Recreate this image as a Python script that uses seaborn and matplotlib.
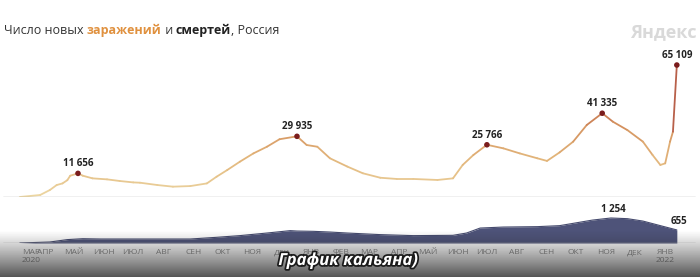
import numpy as np
import pandas as pd
import matplotlib
matplotlib.use("Agg")
import matplotlib.pyplot as plt
import matplotlib.dates as mdates
import matplotlib.patheffects as pe
from matplotlib.collections import LineCollection
from matplotlib.colors import LinearSegmentedColormap, Normalize
import seaborn as sns

sns.set_theme(style="white")
plt.rcParams["font.family"] = ["Open Sans", "DejaVu Sans"]

# ---------------- data ----------------
case_dates = ["2020-03-06", "2020-03-27", "2020-04-06", "2020-04-13", "2020-04-19",
              "2020-04-24", "2020-04-27", "2020-05-05", "2020-05-10", "2020-05-20",
              "2020-06-04", "2020-06-17", "2020-07-01", "2020-07-08", "2020-07-26",
              "2020-08-11", "2020-08-29", "2020-09-15", "2020-09-25", "2020-10-06",
              "2020-10-19", "2020-11-02", "2020-11-16", "2020-11-29", "2020-12-17",
              "2020-12-27", "2021-01-07", "2021-01-20", "2021-02-07", "2021-02-23",
              "2021-03-13", "2021-03-30", "2021-04-16", "2021-05-11", "2021-05-27",
              "2021-06-06", "2021-06-17", "2021-07-01", "2021-07-18", "2021-08-04",
              "2021-08-22", "2021-09-01", "2021-09-14", "2021-09-28", "2021-10-12",
              "2021-10-28", "2021-11-08", "2021-11-23", "2021-12-09", "2021-12-19",
              "2021-12-27", "2022-01-01", "2022-01-06", "2022-01-09", "2022-01-13"]
case_values = [0, 1000, 3450, 5900, 6700,
               8300, 10500, 11656, 10500, 9200,
               8700, 7900, 7200, 7050, 5900,
               5100, 5400, 6700, 10000, 13300,
               17400, 21500, 24800, 28500, 29935,
               25650, 24800, 19100, 15000, 11700,
               9500, 8900, 8900, 8400, 9200,
               15800, 20700, 25766, 24000, 21500,
               19100, 17800, 22000, 27300, 35500,
               41335, 37150, 33000, 27300, 20700,
               15800, 16600, 27300, 32200, 65109]

death_dates = ["2020-03-06", "2020-04-06", "2020-04-24", "2020-05-10", "2020-05-28",
               "2020-07-01", "2020-08-29", "2020-09-25", "2020-10-19", "2020-11-16",
               "2020-12-10", "2020-12-17", "2021-01-03", "2021-01-20", "2021-02-07",
               "2021-03-13", "2021-04-16", "2021-05-27", "2021-06-10", "2021-06-24",
               "2021-07-18", "2021-08-22", "2021-09-14", "2021-10-18", "2021-11-06",
               "2021-11-23", "2021-12-09", "2021-12-27", "2022-01-13"]
death_values = [0, 50, 170, 215, 200,
                200, 200, 285, 370, 500,
                620, 600, 585, 550, 500,
                420, 370, 385, 500, 750,
                800, 820, 870, 1150, 1254,
                1220, 1100, 870, 655]

case_peak_dates = ["2020-05-05", "2020-12-17", "2021-07-01", "2021-10-28", "2022-01-13"]
case_peak_values = [11656, 29935, 25766, 41335, 65109]
death_label_dates = ["2021-11-06", "2022-01-13"]
death_label_values = [1254, 655]

month_names = ["МАР", "АПР", "МАЙ", "ИЮН", "ИЮЛ", "АВГ", "СЕН", "ОКТ", "НОЯ", "ДЕК",
               "ЯНВ", "ФЕВ", "МАР", "АПР", "МАЙ", "ИЮН", "ИЮЛ", "АВГ", "СЕН", "ОКТ",
               "НОЯ", "ДЕК", "ЯНВ"]
year_labels = {0: "2020", 10: "2021", 22: "2022"}

cases = pd.DataFrame({"date": pd.to_datetime(case_dates), "value": case_values})
deaths = pd.DataFrame({"date": pd.to_datetime(death_dates), "value": death_values})
peaks = pd.DataFrame({"date": pd.to_datetime(case_peak_dates), "value": case_peak_values})
dlabels = pd.DataFrame({"date": pd.to_datetime(death_label_dates), "value": death_label_values})
month_starts = pd.date_range("2020-03-01", "2022-01-01", freq="MS")

# ---------------- layout ----------------
W, H = 700, 277
fig = plt.figure(figsize=(W / 100, H / 100), dpi=100)
fig.patch.set_facecolor("white")

def box(y_top, y_bottom):
    return [0, (H - y_bottom) / H, 1, (y_bottom - y_top) / H]

ax_top = fig.add_axes(box(40, 197))
ax_bot = fig.add_axes(box(205, 243))

d0 = mdates.date2num(pd.Timestamp("2020-03-01"))
px_per_day = 0.969
xlim = (d0 - 15 / px_per_day, d0 + (W - 15) / px_per_day)

# ---------------- cases ----------------
sns.lineplot(data=cases, x="date", y="value", ax=ax_top, color="#e0b070", linewidth=1.2)
line = ax_top.get_lines()[0]
xy = line.get_xydata()
line.remove()
segs = np.stack([xy[:-1], xy[1:]], axis=1)
mid_vals = (xy[:-1, 1] + xy[1:, 1]) / 2
cmap = LinearSegmentedColormap.from_list(
    "inf", [(0.0, "#ecd6a2"), (0.3, "#e2b57a"), (0.55, "#d38e5c"),
            (0.75, "#b8604a"), (1.0, "#7a1818")])
lc = LineCollection(segs, cmap=cmap, norm=Normalize(0, 65109), linewidth=1.3,
                    capstyle="round", joinstyle="round")
lc.set_array(mid_vals)
ax_top.add_collection(lc)

sns.scatterplot(data=peaks, x="date", y="value", ax=ax_top, color="#7a1c1c",
                s=16, edgecolor="none", zorder=5)
for d, v in zip(peaks["date"], peaks["value"]):
    ax_top.annotate(f"{v:,}".replace(",", " "), xy=(mdates.date2num(d), v),
                    xytext=(0, 3), textcoords="offset points", ha="center", va="bottom",
                    fontsize=7, fontweight="bold", color="#222222")

ax_top.axhline(0, xmin=3 / W, xmax=695 / W, color="#b5b5b5", lw=1.0)
ax_top.set_xlim(*xlim)
ax_top.set_ylim(0, 157 / 0.002027)
ax_top.set_axis_off()

# ---------------- deaths ----------------
sns.lineplot(data=deaths, x="date", y="value", ax=ax_bot, color="#464b6e", linewidth=0.8)
ax_bot.fill_between(mdates.date2num(deaths["date"]), 0, deaths["value"],
                    color="#4e5379", linewidth=0)
for d, v in zip(dlabels["date"], dlabels["value"]):
    ax_bot.annotate(f"{v:,}".replace(",", " "), xy=(mdates.date2num(d), v),
                    xytext=(1.5, 2), textcoords="offset points", ha="center", va="bottom",
                    fontsize=7, fontweight="bold", color="#222222")
ax_bot.axhline(0, xmin=3 / W, xmax=695 / W, color="#b5b5b5", lw=1.0)
ax_bot.set_xlim(*xlim)
ax_bot.set_ylim(0, 38 / 0.01994)
ax_bot.set_axis_off()

first_day = mdates.date2num(cases["date"].iloc[0])
for i, (ms, name) in enumerate(zip(month_starts, month_names)):
    txt = name + ("\n" + year_labels[i] if i in year_labels else "")
    x = mdates.date2num(ms)
    ha = "center"
    if i == 0:
        x = first_day + 2
        ha = "left"
    ax_bot.annotate(txt, xy=(x, 0), xytext=(0, -4.5), textcoords="offset points",
                    ha=ha, va="top", fontsize=6, color="#8a8a8a",
                    linespacing=1.05, multialignment="left" if i == 0 else "center",
                    annotation_clip=False)

# ---------------- title / brand ----------------
renderer = fig.canvas.get_renderer()
parts = [("Число новых ", "#333333", "normal"), ("заражений", "#e0913f", "bold"),
         (" и ", "#333333", "normal"), ("смертей", "#222222", "bold"),
         (", Россия", "#333333", "normal")]
x_px = 4
for s, c, w in parts:
    t = fig.text(x_px / W, 1 - 30 / H, s, ha="left", va="center", fontsize=9,
                 color=c, fontweight=w)
    bb = t.get_window_extent(renderer)
    x_px += bb.width
fig.text(697 / W, 1 - 32 / H, "Яндекс", ha="right", va="center", fontsize=13,
         color="#d9d9d9", fontweight="bold")

# ---------------- dark bottom gradient (video overlay) ----------------
ov = fig.add_axes([0, 0, 1, 1], zorder=10)
ov.set_axis_off()
ov.patch.set_visible(False)
ys = np.arange(H)
alpha = np.clip((ys - 230) / 47, 0, 1) ** 1.1 * 0.78
grad = np.zeros((H, 1, 4))
grad[..., :3] = 0.13
grad[:, 0, 3] = alpha
ov.imshow(grad, extent=(0, W, H, 0), aspect="auto", interpolation="bilinear")
ov.set_xlim(0, W)
ov.set_ylim(H, 0)

fig.text(348 / W, 1 - 260 / H, "График кальяна)", ha="center", va="center",
         fontsize=12, color="white", fontweight="bold", style="italic", zorder=20,
         path_effects=[pe.withStroke(linewidth=2.5, foreground="#1a1a1a")])

fig.savefig("out.png", dpi=100, facecolor="white")
